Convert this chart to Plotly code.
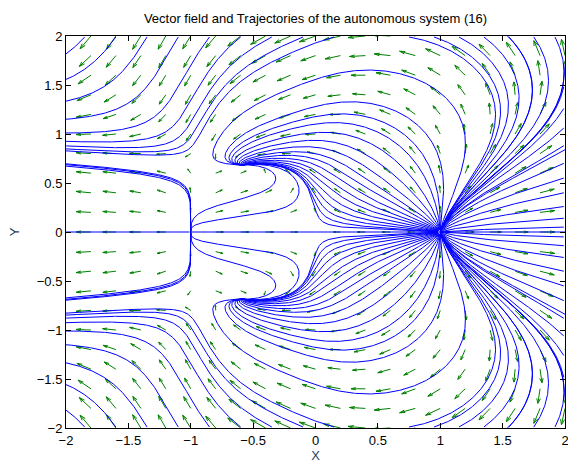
import math
import numpy as np
import plotly.graph_objects as go

# ---- data: the autonomous system ----
# x' = x^3 - x - c(x) y^2 - b(x) y^4
#   c(x) = C_BASE * s(x) + C_BUMP * exp(-((x - C_POS)/C_W)^2),  s(x) = 1/(1+exp(-(x - S_POS)/S_W))
#   b(x) = B0 + B1 x + B2 x^2
# y' = y (G0 + G1 x + G2 x^2 + y^2 (F1 x - E + F3 max(x,0)^3))
C_PARAMS = [0.2, 0.75, -0.4, 0.4, -0.5, 0.15]   # C_BASE, C_BUMP, C_POS, C_W, S_POS, S_W
B_PARAMS = [0.35, 0.15, 0.03]                   # B0, B1, B2
G_PARAMS = [0.5, 0.45, 0.55, 0.61, 0.557, 0.12] # G0, G1, G2, F1, E, F3

# quiver grid
GRID_X = [round(-2 + 0.2 * i, 2) for i in range(21)]
GRID_Y = [round(-2 + 0.2 * i, 2) for i in range(21)]

# trajectory seeds (upper half; mirrored below)
SEED_ANGLES_P1 = [72, 78, 83, 87, 89.5, 92, 96, 101, 107, 114, 121, 129, 137, 145, 153,
                  160, 166, 171, 175]
SEED_VERT_M1 = [-1.004, -1.0012, -0.9996]        # seeds on the vertical line x = -1 (y = 0.3)
SEED_HOOK = [[-0.985, 0.12], [-0.965, 0.07]]     # branch leaving x = -1 to the right
SEED_TOP_FWD = [-1.85, -1.6, -1.35, -1.1, -0.85, -0.6, -0.35, -0.1, 0.15]
SEED_TOP_BWD = [0.75, 0.95, 1.15, 1.35, 1.55, 1.75, 1.92]
SEED_RIGHT_Y = [0.05, 0.14, 0.26, 0.4, 0.55, 0.7, 0.88, 1.06, 1.26, 1.48, 1.72]
AXIS_SEEDS = [1.01, 0.99, -0.99, -1.01]

TICKS = [-2, -1.5, -1, -0.5, 0, 0.5, 1, 1.5, 2]
TICK_TEXT = ["\u22122", "\u22121.5", "\u22121", "\u22120.5", "0", "0.5", "1", "1.5", "2"]


def field(x, y):
    cb, ch, cp, cw, sp_, sw = C_PARAMS
    b0, b1, b2 = B_PARAMS
    g0, g1, g2, f1, e, f3 = G_PARAMS
    c = cb / (1 + math.exp(-(x - sp_) / sw)) + ch * math.exp(-((x - cp) / cw) ** 2)
    b = b0 + b1 * x + b2 * x * x
    y2 = y * y
    xp = max(x, 0.0)
    u = x ** 3 - x - c * y2 - b * y2 * y2
    v = y * (g0 + g1 * x + g2 * x * x + y2 * (f1 * x - e + f3 * xp ** 3))
    return u, v


def integrate(x, y, direction, ds=0.008, nmax=3000):
    xs, ys = [x], [y]
    for _ in range(nmax):
        u, v = field(x, y)
        sp = math.hypot(u, v)
        if sp < 1e-10:
            break
        dt = direction * ds / max(sp, 0.03)
        k1 = (u, v)
        k2 = field(x + 0.5 * dt * k1[0], y + 0.5 * dt * k1[1])
        k3 = field(x + 0.5 * dt * k2[0], y + 0.5 * dt * k2[1])
        k4 = field(x + dt * k3[0], y + dt * k3[1])
        x = x + dt / 6 * (k1[0] + 2 * k2[0] + 2 * k3[0] + k4[0])
        y = y + dt / 6 * (k1[1] + 2 * k2[1] + 2 * k3[1] + k4[1])
        xs.append(x)
        ys.append(y)
        if abs(x) > 2.05 or abs(y) > 2.05:
            break
    return xs, ys


def both_ways(x, y):
    bx, by = integrate(x, y, -1)
    fx, fy = integrate(x, y, 1)
    return bx[::-1] + fx[1:], by[::-1] + fy[1:]


curves = []
r0 = 0.02
for a in SEED_ANGLES_P1:
    t = math.radians(a)
    curves.append(integrate(1 + r0 * math.cos(t), r0 * math.sin(t), 1))
for sx in SEED_VERT_M1:
    curves.append(both_ways(sx, 0.3))
for sx, sy in SEED_HOOK:
    curves.append(both_ways(sx, sy))
for sx in SEED_TOP_FWD:
    curves.append(integrate(sx, 1.99, 1))
for sx in SEED_TOP_BWD:
    curves.append(integrate(sx, 1.99, -1))
for sy in SEED_RIGHT_Y:
    curves.append(integrate(1.99, sy, -1))

lx, ly = [], []
for xs, ys in curves:
    lx += xs + [None] + xs + [None]
    ly += ys + [None] + [-v for v in ys] + [None]
for s in AXIS_SEEDS:
    xs, ys = integrate(s, 0.0, 1)
    lx += xs + [None]
    ly += ys + [None]

# quiver arrows
U = np.zeros((21, 21))
V = np.zeros((21, 21))
for i, gy in enumerate(GRID_Y):
    for j, gx in enumerate(GRID_X):
        U[i, j], V[i, j] = field(gx, gy)
M = np.hypot(U, V)
mmax = M.max()
ax_, ay_ = [], []
for i, gy in enumerate(GRID_Y):
    for j, gx in enumerate(GRID_X):
        m = M[i, j]
        if m < 1e-12:
            continue
        L = 0.18 * (m / mmax) ** 0.25
        du, dv = U[i, j] / m * L, V[i, j] / m * L
        x1, y1 = gx + du, gy + dv
        al, be = 0.33, 0.3
        hx1 = x1 - al * (du + be * dv)
        hy1 = y1 - al * (dv - be * du)
        hx2 = x1 - al * (du - be * dv)
        hy2 = y1 - al * (dv + be * du)
        ax_ += [gx, x1, None, hx1, x1, hx2, None]
        ay_ += [gy, y1, None, hy1, y1, hy2, None]

fig = go.Figure()
fig.add_trace(go.Scatter(x=ax_, y=ay_, mode="lines", line=dict(color="#008000", width=1),
                         hoverinfo="skip"))
fig.add_trace(go.Scatter(x=lx, y=ly, mode="lines", line=dict(color="#0000ff", width=1),
                         hoverinfo="skip"))

FONT = "Liberation Sans, Arial, sans-serif"
axis_common = dict(range=[-2, 2], tickvals=TICKS, ticktext=TICK_TEXT, showgrid=False,
                   zeroline=False, showline=True, linecolor="black", linewidth=1,
                   mirror="ticks", ticks="inside", ticklen=5, tickcolor="black",
                   automargin=False, ticklabeloverflow="allow",
                   tickfont=dict(family=FONT, size=13, color="black"))
W, H = 568, 463
fig.update_layout(
    width=W, height=H,
    margin=dict(l=66, r=3, t=36, b=35),
    paper_bgcolor="white", plot_bgcolor="white",
    showlegend=False,
    title=dict(text="Vector field and Trajectories of the autonomous system (16)",
               x=0.5, xref="paper", y=1 - 18 / H, yref="container", yanchor="middle",
               font=dict(family=FONT, size=13, color="black")),
    xaxis=dict(axis_common, title=dict(text="X", standoff=6, font=dict(family=FONT, size=13))),
    yaxis=dict(axis_common, title=dict(text="Y", standoff=14, font=dict(family=FONT, size=13))),
)
fig.write_html("out.html", config={"displayModeBar": False},
               post_script="document.body.style.margin='0px';document.body.style.overflow='hidden';")
